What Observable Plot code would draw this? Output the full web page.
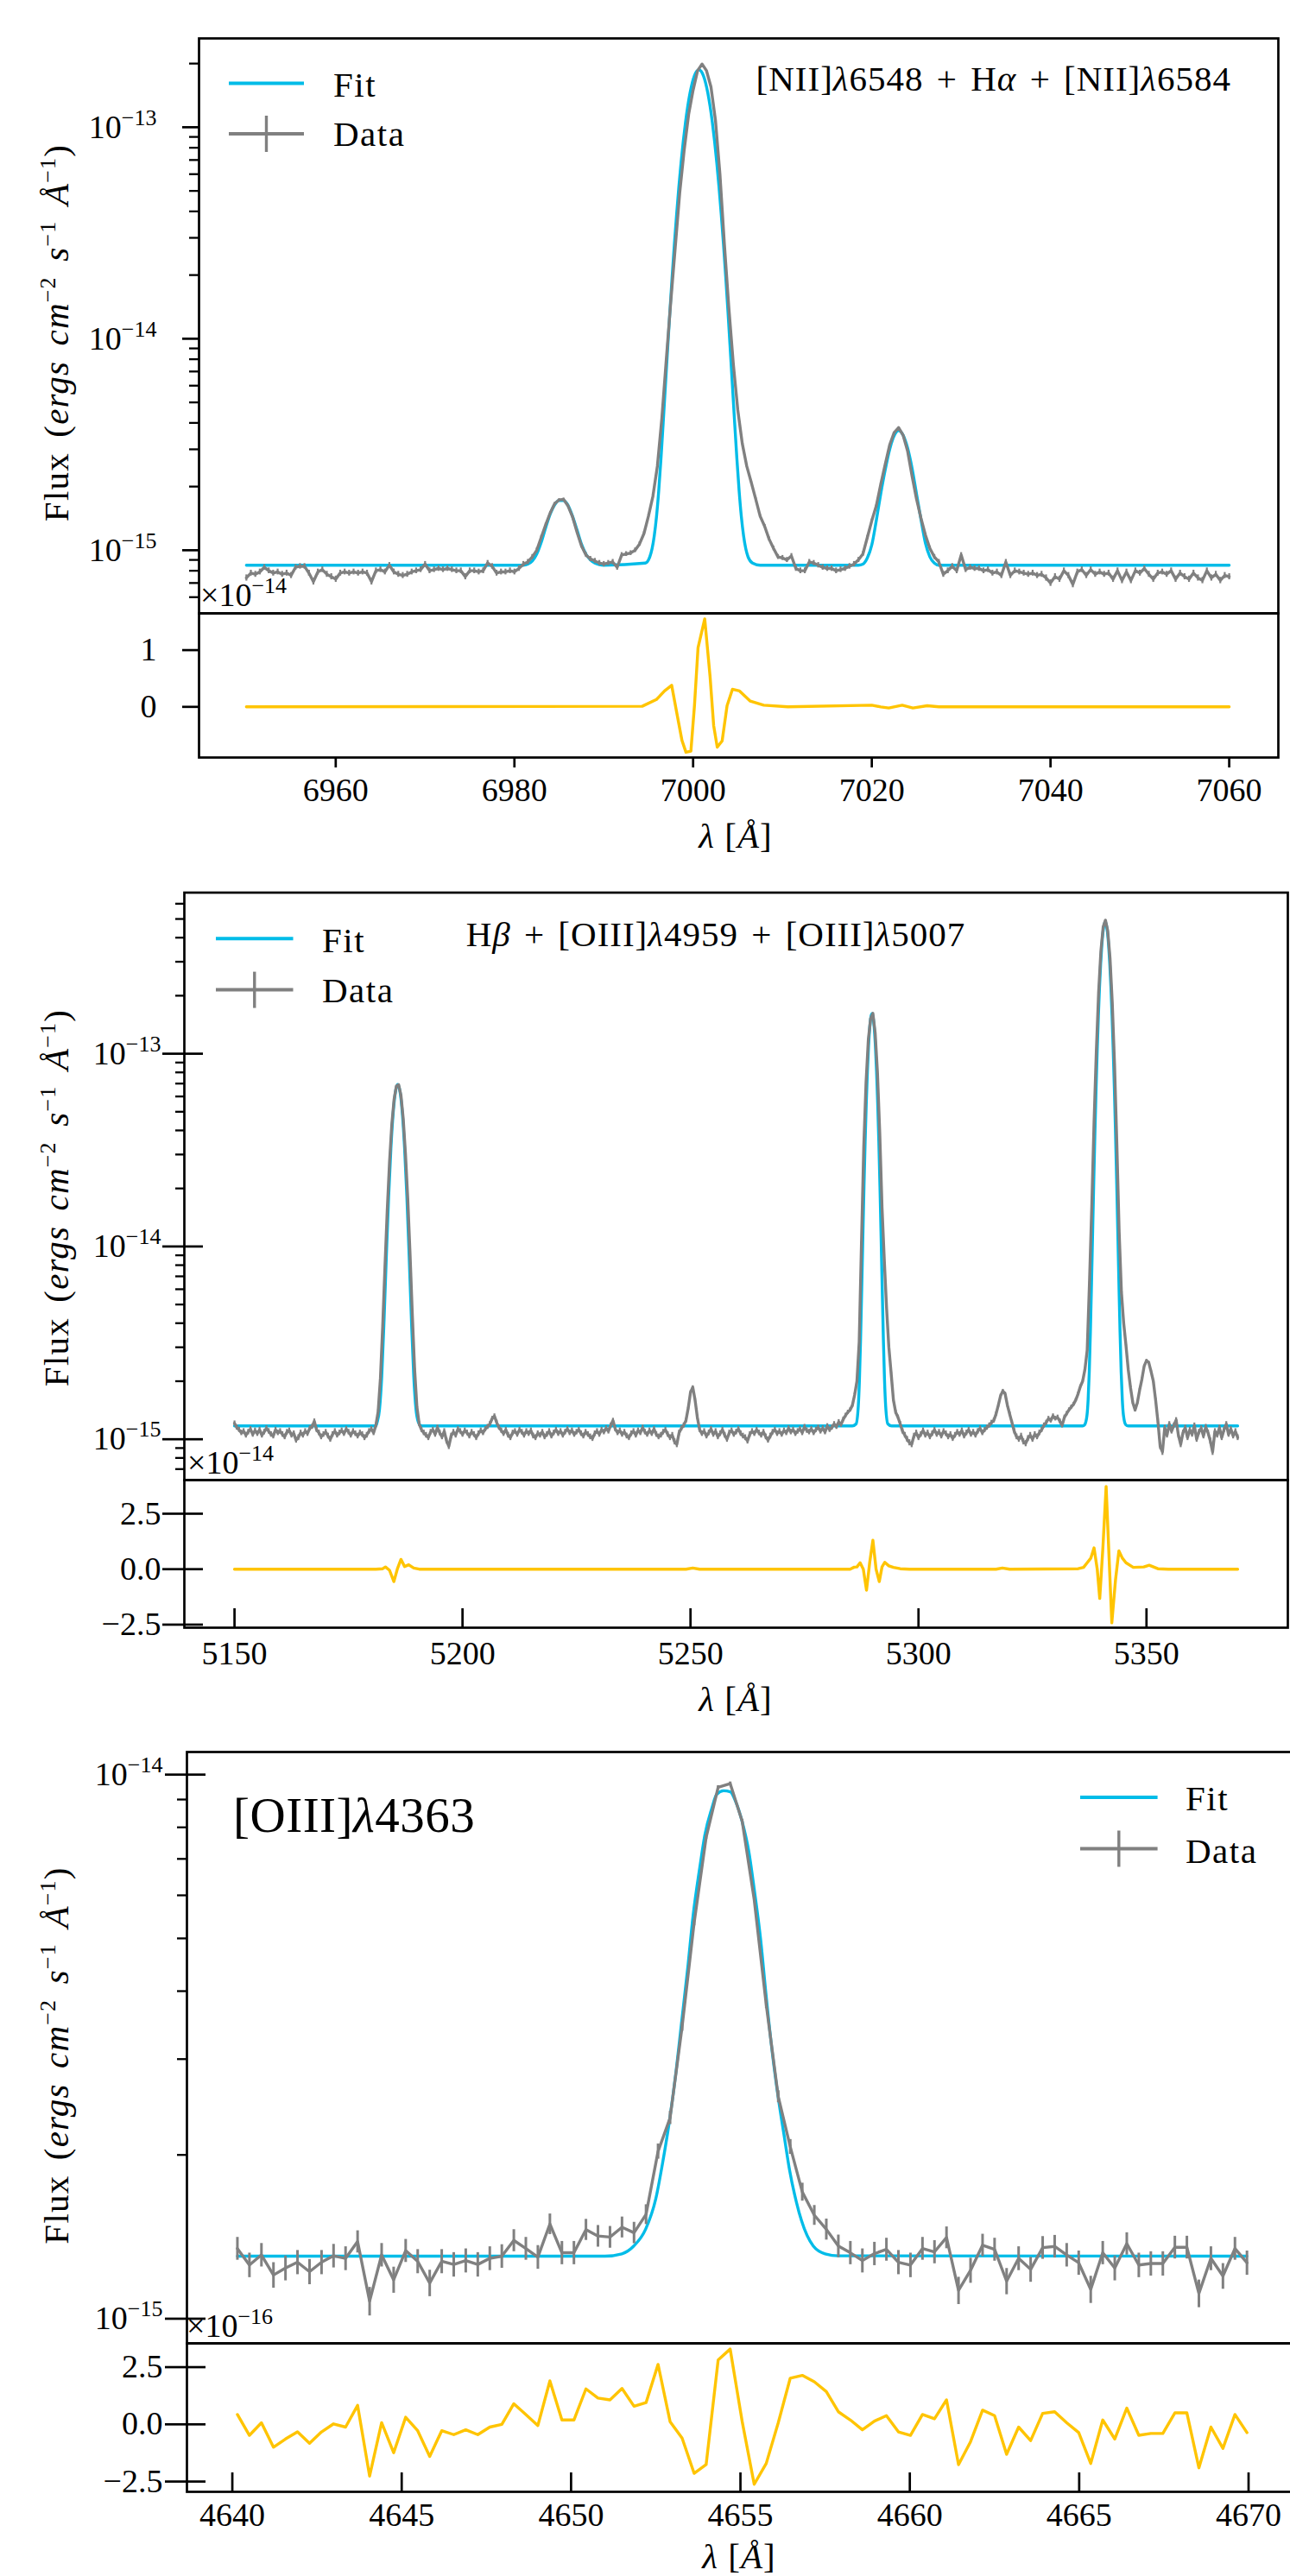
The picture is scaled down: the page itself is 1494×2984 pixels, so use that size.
<!DOCTYPE html>
<html>
<head>
<meta charset="utf-8">
<script src="https://cdn.jsdelivr.net/npm/d3@7"></script>
<script src="https://cdn.jsdelivr.net/npm/@observablehq/plot@0.6"></script>
<style>
html,body{margin:0;padding:0;background:#fff;overflow:hidden;}
#page{position:relative;width:1494px;height:2984px;overflow:hidden;background:#fff;}
</style>
</head>
<body>
<div id="page"></div>
<script>
// ---------------- Panel 1 : [NII]6548 + Halpha + [NII]6584 ----------------
const lam1Start = 6950, lam1Step = 0.5;           // data wavelength grid (Å)
const flux1 = [                                    // flux, units of 1e-15 erg/s/cm2/Å
0.74,0.78,0.77,0.79,0.83,0.80,0.78,0.79,0.77,0.78,
0.76,0.83,0.84,0.84,0.78,0.71,0.79,0.81,0.77,0.75,
0.73,0.78,0.79,0.78,0.79,0.78,0.79,0.78,0.71,0.80,
0.81,0.79,0.85,0.79,0.77,0.76,0.77,0.79,0.80,0.81,
0.86,0.80,0.81,0.82,0.81,0.82,0.81,0.80,0.80,0.75,
0.80,0.80,0.79,0.80,0.87,0.84,0.78,0.79,0.79,0.80,
0.79,0.82,0.86,0.88,0.93,1.00,1.15,1.32,1.50,1.66,
1.73,1.74,1.62,1.44,1.22,1.05,0.95,0.91,0.89,0.87,
0.86,0.87,0.88,0.83,0.95,0.96,0.97,1.00,1.07,1.20,
1.45,1.80,2.5,4.2,8.0,15,27,49,78,115,
150,185,199,185,155,108,60,28,14,7.6,
4.6,3.2,2.5,2.1,1.75,1.45,1.30,1.13,1.02,0.93,
0.92,0.90,0.94,0.82,0.80,0.80,0.88,0.87,0.85,0.83,
0.82,0.82,0.80,0.81,0.82,0.84,0.86,0.90,0.96,1.15,
1.38,1.62,2.05,2.55,3.15,3.6,3.8,3.5,2.95,2.25,
1.75,1.42,1.18,1.02,0.93,0.88,0.77,0.80,0.84,0.80,
0.95,0.81,0.83,0.82,0.82,0.80,0.81,0.78,0.79,0.76,
0.88,0.76,0.80,0.79,0.78,0.77,0.78,0.76,0.77,0.74,
0.70,0.75,0.73,0.80,0.76,0.69,0.79,0.81,0.76,0.81,
0.77,0.79,0.77,0.78,0.73,0.80,0.72,0.79,0.72,0.80,
0.78,0.82,0.77,0.73,0.78,0.79,0.77,0.80,0.73,0.78,
0.75,0.73,0.78,0.74,0.72,0.80,0.74,0.77,0.72,0.76,
0.75];
const err1 = 0.025;
const fitLam1 = [6950,6981,6981.5,6982,6982.5,6983,6983.5,6984,6984.5,6985,6985.5,6986,6986.5,6987,6987.5,6988,6988.5,6989,6989.5,6990,
6994.65,6995.15,6995.65,6995.9,6996.15,6996.4,6996.65,6996.9,6997.15,6997.4,6997.65,6997.9,6998.15,6998.4,6998.65,6998.9,6999.15,6999.4,6999.65,6999.9,7000.15,7000.4,
7000.65,7000.9,7001.15,7001.4,7001.65,7001.9,7002.15,7002.4,7002.65,7002.9,7003.15,7003.4,7003.65,7003.9,7004.15,7004.4,7004.65,7004.9,7005.15,7005.4,7005.65,7006.15,7006.65,7007.5,
7018.5,7019,7019.5,7020,7020.5,7021,7021.5,7022,7022.5,7023,7023.5,7024,7024.5,7025,7025.5,7026,7026.5,7027,7027.5,7060];
const fitFlux1 = [0.85,0.85,0.86,0.89,0.96,1.09,1.28,1.48,1.64,1.72,1.72,1.63,1.45,1.25,1.07,0.96,0.90,0.87,0.855,0.85,
0.87,0.93,1.17,1.44,1.91,2.7,4.0,6.0,9.0,13.4,19.6,27.9,38.6,52.0,67.9,86.0,105.6,125.7,145,162,175.3,183.9,
186.85,183.9,175.3,162,145,125.7,105.6,86.0,67.9,52.0,38.6,27.9,19.6,13.4,9.0,6.0,4.0,2.7,1.91,1.44,1.17,0.93,0.87,0.85,
0.85,0.86,0.92,1.06,1.38,1.85,2.40,3.0,3.48,3.68,3.5,3.05,2.45,1.85,1.40,1.08,0.93,0.87,0.85,0.85];
const resLam1 = [6950,6994.3,6995.9,6996.8,6997.6,6998.2,6998.75,6999.2,6999.75,7000.15,7000.55,7001.3,7001.9,7002.3,7002.7,7003.25,7003.8,7004.4,7005.2,7006.4,7007.9,7010.6,7020.0,7021.0,7021.9,7023.4,7024.6,7026.2,7027.5,7060];
const res1 = [0,0.01,0.13,0.28,0.38,-0.13,-0.59,-0.80,-0.78,0.02,1.04,1.55,0.53,-0.33,-0.71,-0.60,0.02,0.31,0.28,0.10,0.03,0.0,0.03,0.0,-0.02,0.03,-0.02,0.02,0,0]; // units 1e-14
const xTicks1 = [6960,6980,7000,7020,7040,7060];
const yMajor1 = [1e-15,1e-14,1e-13];
const yMinor1 = [6e-16,7e-16,8e-16,9e-16,2e-15,3e-15,4e-15,5e-15,6e-15,7e-15,8e-15,9e-15,2e-14,3e-14,4e-14,5e-14,6e-14,7e-14,8e-14,9e-14,2e-13];
const resTicks1 = [0,1];

// ---------------- Panel 2 : Hbeta + [OIII]4959 + [OIII]5007 ----------------
const lam2Start = 5150, lam2Step = 0.5;
const flux2 = [
1.21,1.15,1.12,1.08,1.10,1.05,1.09,1.13,1.06,1.11,
1.07,1.12,1.05,1.09,1.14,1.10,1.06,1.04,1.12,1.08,
1.10,1.06,1.03,1.09,1.11,1.05,1.07,0.99,1.02,1.08,
1.05,1.10,1.07,1.14,1.16,1.24,1.12,1.08,1.03,1.06,
1.09,1.04,1.00,1.06,1.10,1.05,1.08,1.11,1.07,1.13,
1.09,1.05,1.10,1.07,1.04,1.08,1.06,1.02,1.05,1.10,
1.13,1.08,1.18,1.39,2.07,3.86,7.9,15.5,27.5,43,
58,68,69,61,46,30,17.6,9.1,4.4,2.3,
1.47,1.2,1.12,1.08,1.05,1.02,1.09,1.12,1.06,1.15,
1.08,1.03,1.10,0.98,0.92,1.04,1.09,1.05,1.13,1.10,
1.06,1.11,1.08,1.04,1.09,1.06,1.02,1.07,1.11,1.08,
1.13,1.16,1.20,1.28,1.32,1.22,1.15,1.11,1.07,1.12,
1.05,1.02,1.08,1.10,1.06,1.12,1.09,1.05,1.10,1.07,
1.11,1.04,1.02,1.07,1.05,1.09,1.03,1.06,1.10,1.04,
1.08,1.12,1.07,1.10,1.05,1.09,1.13,1.08,1.11,1.06,
1.09,1.12,1.07,1.04,1.09,1.06,1.03,1.01,1.07,1.10,
1.06,1.12,1.09,1.14,1.10,1.18,1.25,1.13,1.08,1.11,
1.06,1.09,1.04,1.02,1.07,1.10,1.05,1.11,1.08,1.15,
1.09,1.06,1.11,1.07,1.13,1.06,1.03,1.05,1.09,1.12,
1.06,1.02,1.05,0.97,0.94,1.08,1.14,1.18,1.25,1.45,
1.75,1.86,1.60,1.30,1.12,1.07,1.10,1.04,1.08,1.13,
1.06,1.10,1.03,1.07,1.12,1.05,1.00,1.08,1.11,1.06,
1.09,1.13,1.07,1.04,1.02,0.98,1.06,1.10,1.07,1.12,
1.08,1.05,1.09,1.03,0.99,1.04,1.09,1.12,1.07,1.10,
1.06,1.11,1.08,1.14,1.09,1.12,1.07,1.10,1.13,1.08,
1.16,1.11,1.09,1.13,1.08,1.12,1.15,1.10,1.14,1.09,
1.17,1.12,1.15,1.20,1.16,1.23,1.19,1.27,1.33,1.38,
1.42,1.50,1.70,2.00,3.20,10.5,33,71,118,152,
162,128,80,39,16,8.5,4.8,3.0,2.2,1.6,
1.38,1.30,1.20,1.10,1.05,1.00,0.96,0.94,1.04,1.08,
1.02,1.06,1.11,1.05,1.08,1.03,1.07,1.12,1.06,1.09,
1.04,1.10,1.07,1.03,1.06,1.01,1.05,1.09,1.06,1.11,
1.04,1.08,1.12,1.06,1.09,1.05,1.10,1.14,1.08,1.12,
1.15,1.18,1.22,1.25,1.35,1.50,1.68,1.78,1.72,1.50,
1.35,1.22,1.10,1.03,1.00,1.04,0.97,0.95,1.01,1.05,
1.00,1.06,1.03,1.08,1.12,1.18,1.22,1.28,1.25,1.32,
1.28,1.30,1.24,1.18,1.30,1.36,1.42,1.47,1.52,1.60,
1.72,1.88,2.00,2.30,2.90,6.5,16,44,103,207,
340,454,493,435,313,183,87,34,12,5.8,
4.0,3.07,2.3,1.85,1.55,1.42,1.55,1.80,2.05,2.40,
2.56,2.50,2.25,2.00,1.60,1.24,0.92,0.86,1.15,1.05,
1.20,1.10,1.18,1.26,1.05,0.94,1.08,1.15,1.02,1.12,
1.06,1.18,1.00,1.09,1.14,1.04,1.16,1.08,0.98,0.86,
1.10,1.05,1.15,1.02,1.12,1.20,1.06,1.13,1.04,1.10,
1.02];
const err2 = 0.035;
const fitLam2 = [5150,5181.0,5181.3,5181.8,5182.3,5182.8,5183.3,5183.8,5184.3,5184.8,5185.3,5185.8,5186.3,5186.8,5187.3,5187.8,5188.3,5188.8,5189.3,5189.8,5190.3,5190.8,5191.3,
5285.5,5286.3,5286.8,5287.05,5287.3,5287.55,5287.8,5288.05,5288.3,5288.55,5288.8,5289.05,5289.3,5289.55,5289.8,5290.05,5290.3,5290.55,5290.8,5291.05,5291.3,5291.55,5291.8,5292.05,5292.3,5292.55,5292.8,5293.3,5294.1,
5336.0,5336.45,5336.95,5337.2,5337.45,5337.7,5337.95,5338.2,5338.45,5338.7,5338.95,5339.2,5339.45,5339.7,5339.95,5340.2,5340.45,5340.7,5340.95,5341.2,
5341.45,5341.7,5341.95,5342.2,5342.45,5342.7,5342.95,5343.2,5343.45,5343.7,5343.95,5344.2,5344.45,5344.7,5344.95,5345.45,5346.0,5370];
const fitFlux2 = [1.172,1.172,1.23,1.43,2.14,4.16,8.9,18.1,32.3,49.3,63.5,69.2,63.5,49.3,32.3,18.1,8.9,4.16,2.14,1.43,1.23,1.18,1.172,
1.172,1.2,1.49,2.03,3.3,6.0,11.2,20.4,34.9,55.4,81.2,109.6,135.7,154.5,161.2,154.5,135.7,109.6,81.2,55.4,34.9,20.4,11.2,6.0,3.3,2.03,1.49,1.2,1.172,
1.172,1.19,1.33,1.6,2.23,3.62,6.5,12.1,22.2,39.4,66.1,104.9,157,221,292.3,363.6,424.8,466,481,466,
424.8,363.6,292.3,221,157,104.9,66.1,39.4,22.2,12.1,6.5,3.62,2.23,1.6,1.33,1.19,1.172,1.172];
const resLam2 = [5150,5181,5182.5,5183.1,5184.0,5184.95,5185.7,5186.5,5187.3,5188.2,5189.3,5190.5,5249.0,5250.5,5252.0,5285.0,5285.9,5286.5,5287.2,5287.9,
5288.6,5289.3,5290.0,5290.7,5291.4,5292.0,5292.6,5293.5,5294.5,5296.0,5298.0,5317.0,5318.4,5320.0,5335.0,5336.2,5337.0,5337.8,5338.5,5339.2,
5339.75,5340.45,5341.15,5341.8,5342.4,5343.2,5343.95,5344.7,5345.5,5347.1,5349.4,5350.6,5352.5,5354.8,5370];
const res2 = [0,0,0.02,0.10,-0.05,-0.56,0.0,0.44,0.12,0.20,0.05,0.0,0.0,0.05,0.0,0.0,0.09,0.10,0.29,0.0,
-0.95,0.30,1.30,0.0,-0.56,0.10,0.31,0.15,0.08,0.02,0.0,0.0,0.05,0.0,0.02,0.08,0.29,0.5,0.96,0.0,
-1.32,1.0,3.73,0.5,-2.42,-0.5,0.83,0.5,0.29,0.08,0.10,0.18,0.02,0.0,0.0]; // units 1e-14
const xTicks2 = [5150,5200,5250,5300,5350];
const yMajor2 = [1e-15,1e-14,1e-13];
const yMinor2 = [7e-16,8e-16,9e-16,2e-15,3e-15,4e-15,5e-15,6e-15,7e-15,8e-15,9e-15,2e-14,3e-14,4e-14,5e-14,6e-14,7e-14,8e-14,9e-14,2e-13,3e-13,4e-13,5e-13,6e-13];
const resTicks2 = [-2.5,0,2.5];

// ---------------- Panel 3 : [OIII]4363 ----------------
const lam3Start = 4640.15, lam3Step = 0.3548;
const flux3 = [
1.346,1.255,1.310,1.203,1.239,1.270,1.220,1.270,1.305,1.291,
1.386,1.077,1.310,1.179,1.334,1.275,1.163,1.275,1.258,1.279,
1.258,1.291,1.303,1.393,1.346,1.298,1.493,1.322,1.322,1.458,
1.419,1.413,1.473,1.439,1.555,2.03,2.34,3.44,5.34,7.67,
9.48,9.63,8.21,5.89,3.78,2.56,2.07,1.71,1.55,1.46,
1.36,1.322,1.279,1.317,1.341,1.270,1.255,1.346,1.327,1.410,
1.127,1.227,1.365,1.341,1.172,1.291,1.232,1.351,1.358,1.310,
1.267,1.132,1.322,1.239,1.374,1.255,1.263,1.263,1.353,1.353,
1.113,1.291,1.198,1.346,1.267];
const err3 = 0.065;
const fitLam3 = [4640.15,4651.0,4651.5,4651.85,4652.2,4652.5,4652.7,4652.9,4653.1,4653.25,4653.45,4653.6,4653.8,4653.95,4654.15,4654.3,4654.5,4654.7,4654.85,4655.05,
4655.25,4655.4,4655.6,4655.75,4655.95,4656.1,4656.3,4656.45,4656.65,4656.8,4657.15,4657.5,4657.9,4669.95];
const fitFlux3 = [1.303,1.303,1.316,1.36,1.46,1.66,1.93,2.30,2.85,3.45,4.45,5.49,6.75,7.75,8.65,9.2,9.34,9.3,8.95,8.2,
7.2,6.2,4.95,3.97,3.05,2.59,2.15,1.876,1.64,1.516,1.36,1.316,1.305,1.303];
const res3 = [ // units 1e-16, same grid as flux3
0.43,-0.48,0.07,-1.0,-0.64,-0.33,-0.83,-0.33,0.02,-0.12,
0.83,-2.26,0.07,-1.24,0.31,-0.28,-1.40,-0.28,-0.45,-0.24,
-0.45,-0.12,0.0,0.90,0.43,-0.05,1.90,0.19,0.19,1.55,
1.15,1.07,1.57,0.79,0.95,2.62,0.12,-0.6,-2.14,-1.76,
2.81,3.29,0.12,-2.62,-1.71,0.07,2.02,2.14,1.86,1.43,
0.55,0.19,-0.24,0.14,0.38,-0.33,-0.48,0.43,0.24,1.07,
-1.76,-0.76,0.62,0.38,-1.31,-0.12,-0.71,0.48,0.55,0.07,
-0.36,-1.71,0.19,-0.64,0.71,-0.48,-0.40,-0.40,0.50,0.50,
-1.90,-0.12,-1.05,0.43,-0.36];
const xTicks3 = [4640,4645,4650,4655,4660,4665,4670];
const yMajor3 = [1e-15,1e-14];
const yMinor3 = [2e-15,3e-15,4e-15,5e-15,6e-15,7e-15,8e-15,9e-15];
const resTicks3 = [-2.5,0,2.5];

// ---------------- styling ----------------
const FONT = "'Liberation Serif','Times New Roman',serif";
const FS = 38, TFS = 41, SUPFS = 26, SUPDY = 15;
const GRAY = "#808080", BLUE = "#00BCE8", YELLOW = "#FFC400";
const LW = 3.4, FW = 2.7;
const page = document.getElementById("page");
const NS = "http://www.w3.org/2000/svg";

function place(svg, top) {
  svg.style.position = "absolute";
  svg.style.left = "0px";
  svg.style.top = top + "px";
  svg.style.maxWidth = "none";
  svg.style.background = "transparent";
  svg.style.overflow = "visible";
  svg.style.fontFamily = FONT;
  svg.style.fontSize = FS + "px";
  page.appendChild(svg);
}
function supLabels(svg) {
  svg.querySelectorAll('[aria-label="y-axis tick label"] text').forEach(t => {
    const m = t.textContent.match(/^10\^(-?\d+)$/);
    if (m) {
      t.textContent = "10";
      const ts = document.createElementNS(NS, "tspan");
      ts.setAttribute("dy", -SUPDY);
      ts.setAttribute("font-size", SUPFS);
      ts.textContent = m[1].replace("-", "\u2212");
      t.appendChild(ts);
    }
  });
}
const fmtRes = d => d.toFixed(1).replace("-", "\u2212");

function mainPanel(o) {
  const lam = d3.range(o.flux.length).map(i => o.lamStart + i * o.lamStep);
  const data = lam.map((x, i) => ({x, y: o.flux[i] * 1e-15}));
  const fit = o.fitLam.map((x, i) => ({x, y: o.fitFlux[i] * 1e-15}));
  const innerW = o.width - o.ml - o.mr;
  const minors = o.minors.filter(v => v > o.yDomain[0] && v < o.yDomain[1]);
  const marks = [
    Plot.line(fit, {x: "x", y: "y", stroke: BLUE, strokeWidth: LW, curve: "monotone-x"}),
    Plot.ruleX(data, {x: "x", y1: d => d.y - o.err * 1e-15, y2: d => d.y + o.err * 1e-15, stroke: GRAY, strokeWidth: o.errW}),
    Plot.line(data, {x: "x", y: "y", stroke: GRAY, strokeWidth: LW}),
    Plot.frame({stroke: "black", strokeWidth: FW}),
    Plot.axisY({ticks: minors, tickSize: o.minOut, tickFormat: () => "", strokeWidth: FW * 0.85, label: null}),
    Plot.axisY({ticks: o.majors, tickSize: o.majOut, tickPadding: o.pad, strokeWidth: FW,
      tickFormat: d => "10^" + Math.round(Math.log10(d)), fontSize: FS, fontFamily: FONT, label: null})
  ];
  if (o.majIn) marks.push(Plot.tickY(o.majors, {y: d => d, insetRight: innerW - o.majIn, stroke: "black", strokeWidth: FW}));
  const svg = Plot.plot({
    width: o.width, height: o.height,
    marginLeft: o.ml, marginRight: o.mr, marginTop: o.mt, marginBottom: o.mb,
    x: {domain: o.xDomain, axis: null, label: null},
    y: {type: "log", domain: o.yDomain, label: null},
    marks
  });
  supLabels(svg);
  place(svg, o.top);
}

function resPanel(o) {
  const lam = o.lam || d3.range(o.res.length).map(i => o.lamStart + i * o.lamStep);
  const data = lam.map((x, i) => ({x, y: o.res[i]}));
  const innerW = o.width - o.ml - o.mr, innerH = o.height - o.mt - o.mb;
  const marks = [
    Plot.line(data, {x: "x", y: "y", stroke: YELLOW, strokeWidth: LW}),
    Plot.frame({stroke: "black", strokeWidth: FW}),
    Plot.axisX({ticks: o.xTicks, tickSize: o.xOut, tickPadding: o.xPad, tickFormat: d => String(d),
      strokeWidth: FW, fontSize: FS, fontFamily: FONT, label: null}),
    Plot.axisY({ticks: o.yTicks, tickSize: o.yOut, tickPadding: o.yPad, tickFormat: o.yFmt,
      strokeWidth: FW, fontSize: FS, fontFamily: FONT, label: null})
  ];
  if (o.xIn) marks.push(Plot.tickX(o.xTicks, {x: d => d, insetTop: innerH - o.xIn, stroke: "black", strokeWidth: FW}));
  if (o.yIn) marks.push(Plot.tickY(o.yTicks, {y: d => d, insetRight: innerW - o.yIn, stroke: "black", strokeWidth: FW}));
  const svg = Plot.plot({
    width: o.width, height: o.height,
    marginLeft: o.ml, marginRight: o.mr, marginTop: o.mt, marginBottom: o.mb,
    x: {domain: o.xDomain, label: null},
    y: {domain: o.yDomain, label: null},
    marks
  });
  place(svg, o.top);
}

// Panel 1
mainPanel({flux: flux1, lamStart: lam1Start, lamStep: lam1Step, err: err1, errW: 2.2, fitLam: fitLam1, fitFlux: fitFlux1,
  xDomain: [6944.7, 7065.5], yDomain: [5.03e-16, 2.63e-13], majors: yMajor1, minors: yMinor1,
  top: 0, width: 1494, height: 712, ml: 230, mr: 14, mt: 44, mb: 2, majOut: 19, minOut: 11, majIn: 0, pad: 30});
resPanel({lam: resLam1, res: res1, xDomain: [6944.7, 7065.5], yDomain: [-0.893, 1.648], xTicks: xTicks1, yTicks: resTicks1,
  yFmt: d => String(d), top: 708, width: 1494, height: 300, ml: 230, mr: 14, mt: 2, mb: 131,
  xOut: 12, xPad: 12, xIn: 0, yOut: 19, yPad: 30, yIn: 0});

// Panel 2
mainPanel({flux: flux2, lamStart: lam2Start, lamStep: lam2Step, err: err2, errW: 2.2, fitLam: fitLam2, fitFlux: fitFlux2,
  xDomain: [5139, 5381], yDomain: [6.14e-16, 6.85e-13], majors: yMajor2, minors: yMinor2,
  top: 1000, width: 1494, height: 716, ml: 213, mr: 3, mt: 33.5, mb: 2, majOut: 25, minOut: 10, majIn: 22, pad: 2});
resPanel({lam: resLam2, res: res2, xDomain: [5139, 5381], yDomain: [-2.638, 4.016], xTicks: xTicks2, yTicks: resTicks2,
  yFmt: fmtRes, top: 1712, width: 1494, height: 300, ml: 213, mr: 3, mt: 2, mb: 127,
  xOut: 0, xPad: 16, xIn: 22, yOut: 25, yPad: 2, yIn: 22});

// Panel 3
mainPanel({flux: flux3, lamStart: lam3Start, lamStep: lam3Step, err: err3, errW: 3, fitLam: fitLam3, fitFlux: fitFlux3,
  xDomain: [4638.66, 4671.44], yDomain: [9.01e-16, 1.1004e-14], majors: yMajor3, minors: yMinor3,
  top: 2000, width: 1520, height: 716, ml: 216, mr: 18, mt: 29, mb: 2, majOut: 25, minOut: 11, majIn: 22, pad: 3});
resPanel({lamStart: lam3Start, lamStep: lam3Step, res: res3, xDomain: [4638.66, 4671.44], yDomain: [-2.95, 3.54], xTicks: xTicks3, yTicks: resTicks3,
  yFmt: fmtRes, top: 2712, width: 1520, height: 272, ml: 216, mr: 18, mt: 2, mb: 98,
  xOut: 0, xPad: 13, xIn: 22, yOut: 25, yPad: 3, yIn: 22});

// ---------------- text overlay (labels, titles, legends) ----------------
const sup = s => `<tspan dy="-${SUPDY}" font-size="${SUPFS}">${s}</tspan>`;
const down = s => `<tspan dy="${SUPDY}">${s}</tspan>`;
function yLabel(cy) {
  return `<text transform="translate(79,${cy}) rotate(-90)" text-anchor="middle" font-size="${TFS}" letter-spacing="1.2" word-spacing="6">Flux (<tspan font-style="italic">ergs cm</tspan>${sup("\u22122")}<tspan dy="${SUPDY}" font-style="italic"> s</tspan>${sup("\u22121")}<tspan dy="${SUPDY}" font-style="italic"> Å</tspan>${sup("\u22121")}${down(")")}</text>`;
}
function xLabel(cx, y) {
  return `<text x="${cx}" y="${y}" text-anchor="middle" font-size="${TFS}" letter-spacing="1"><tspan font-style="italic">λ</tspan> [<tspan font-style="italic">Å</tspan>]</text>`;
}
function offsetLabel(x, y, e) {
  return `<text x="${x}" y="${y}" font-size="${FS}">×10${sup("\u2212" + e)}</text>`;
}
function legend(x0, x1, yFit, yData, tx, fitBase, dataBase) {
  const xm = (x0 + x1) / 2;
  return `<line x1="${x0}" x2="${x1}" y1="${yFit}" y2="${yFit}" stroke="${BLUE}" stroke-width="${LW + 0.6}"/>
  <line x1="${x0}" x2="${x1}" y1="${yData}" y2="${yData}" stroke="${GRAY}" stroke-width="${LW + 0.6}"/>
  <line x1="${xm}" x2="${xm}" y1="${yData - 21}" y2="${yData + 21}" stroke="${GRAY}" stroke-width="${LW}"/>
  <text x="${tx}" y="${fitBase}" font-size="${TFS}" letter-spacing="1.5">Fit</text>
  <text x="${tx}" y="${dataBase}" font-size="${TFS}" letter-spacing="1.5">Data</text>`;
}
const it = s => `<tspan font-style="italic">${s}</tspan>`;
const overlay = `<svg xmlns="${NS}" width="1494" height="2984" style="position:absolute;left:0;top:0;font-family:${FONT};white-space:pre" fill="#000">
${yLabel(385.5)}
${xLabel(852, 982)}
<text x="1426" y="105" text-anchor="end" font-size="${TFS}" letter-spacing="1" word-spacing="4">[NII]${it("λ")}6548 + H${it("α")} + [NII]${it("λ")}6584</text>
${legend(265, 352, 96.4, 155, 386, 111.6, 169)}
${offsetLabel(232, 702, "14")}

${yLabel(1387.5)}
${xLabel(852, 1982)}
<text x="829" y="1096" text-anchor="middle" font-size="${TFS}" letter-spacing="1" word-spacing="4">H${it("β")} + [OIII]${it("λ")}4959 + [OIII]${it("λ")}5007</text>
${legend(250, 339.5, 1087.2, 1146.6, 373, 1102.6, 1161)}
${offsetLabel(217, 1707, "14")}

${yLabel(2381)}
${xLabel(856, 2975)}
<text x="270" y="2122" font-size="57" letter-spacing="0.5">[OIII]${it("λ")}4363</text>
${legend(1251, 1340.6, 2082, 2141.5, 1373, 2097, 2158)}
${offsetLabel(216, 2707, "16")}
</svg>`;
page.insertAdjacentHTML("beforeend", overlay);
</script>
</body>
</html>
